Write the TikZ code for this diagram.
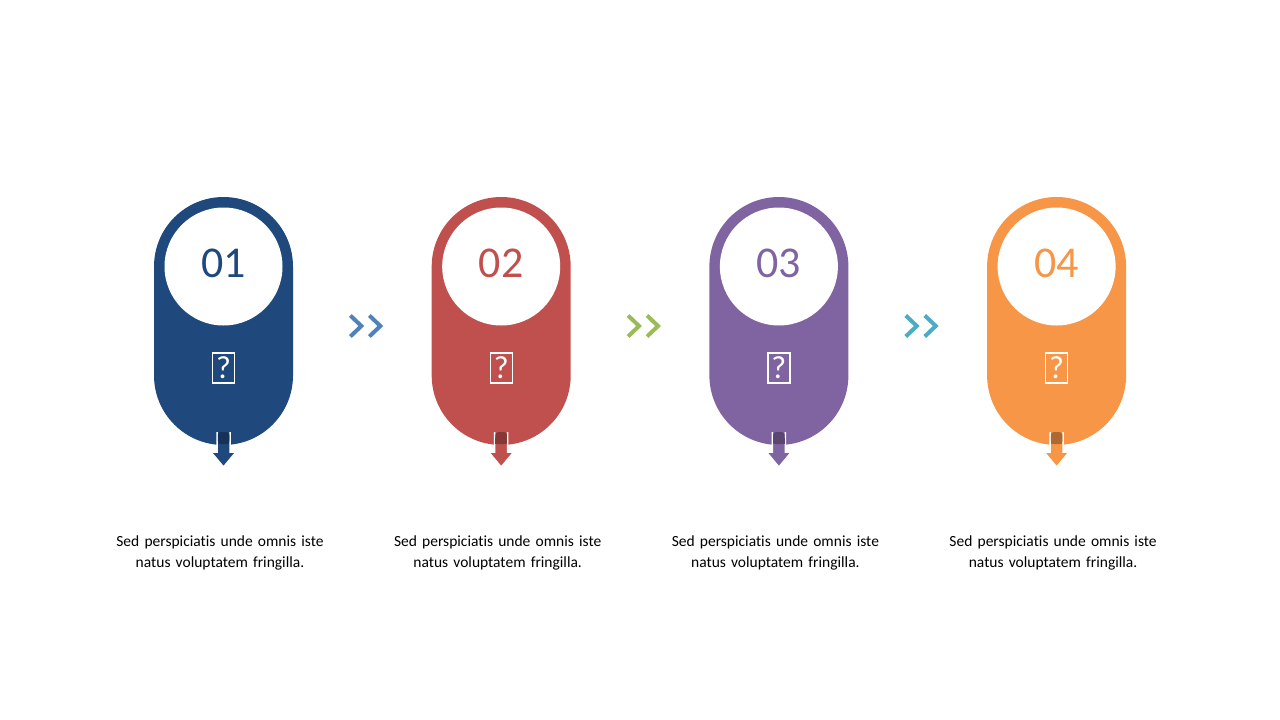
\documentclass[tikz,border=0pt]{standalone}
\usepackage{fontspec}
\setmainfont{Carlito}[Ligatures=NoCommon]
\definecolor{stepA}{HTML}{1F497D}
\definecolor{stepB}{HTML}{C0504D}
\definecolor{stepC}{HTML}{8064A2}
\definecolor{stepD}{HTML}{F79646}
\definecolor{chevA}{HTML}{4F81BD}
\definecolor{chevB}{HTML}{9BBB59}
\definecolor{chevC}{HTML}{4BACC6}
\begin{document}
\begin{tikzpicture}[x=1pt, y=-1pt,
  pill/.style={fill=#1, rounded corners=69.5pt, minimum width=139pt, minimum height=248pt, inner sep=0pt},
  numdisc/.style={circle, fill=white, minimum size=118pt, inner sep=0pt, text=#1},
  numtext/.style={text=#1, inner sep=0pt, font=\fontsize{44}{44}\selectfont},
  iconbox/.style={draw=white, line width=1.3pt, minimum width=22pt, minimum height=30pt, inner sep=0pt, text=white, font=\fontsize{32}{32}\selectfont},
  desc/.style={text width=260pt, align=center, font=\fontsize{15.5}{21}\selectfont}]
  % page
  \useasboundingbox (0,0) rectangle (1280,720);

  % the four steps
  \foreach \i/\col in {1/stepA, 2/stepB, 3/stepC, 4/stepD}{
    \pgfmathsetmacro\x{223.5+277.7*(\i-1)}
    \node[pill=\col] (pill\i) at (\x,321) {};
    \node[numdisc=\col] (disc\i) at (\x,266.5) {};
    \node[numtext=\col] (num\i) at (\x,263.5) {0\i};
    \node[iconbox] (icon\i) at (\x,368) {?};
    % arrow out of the bottom
    \draw[white, line width=1.5pt, fill=\col] (\x-6.5,432) -- (\x-6.5,452) -- (\x-12.5,452)
      -- (\x,467) -- (\x+12.5,452) -- (\x+6.5,452) -- (\x+6.5,432);
    \fill[\col!70!black, rounded corners=3pt] (\x-5.75,432) rectangle (\x+5.75,444);
    \fill[\col!70!black] (\x-5.75,438) rectangle (\x+5.75,444);
    \node[desc] (desc\i) at (\x-3.5,553) {Sed perspiciatis unde omnis iste\\natus voluptatem fringilla.};
  }

  % chevrons between the steps
  \foreach \i/\col in {1/chevA, 2/chevB, 3/chevC}{
    \pgfmathsetmacro\m{362.35+277.7*(\i-1)+3.5}
    \draw[\col, line width=4pt, miter limit=10] (\m-15.5,315.5) -- (\m-4.5,326) -- (\m-15.5,336.5);
    \draw[\col, line width=4pt, miter limit=10] (\m+3.5,315.5) -- (\m+14.5,326) -- (\m+3.5,336.5);
  }
\end{tikzpicture}
\end{document}
